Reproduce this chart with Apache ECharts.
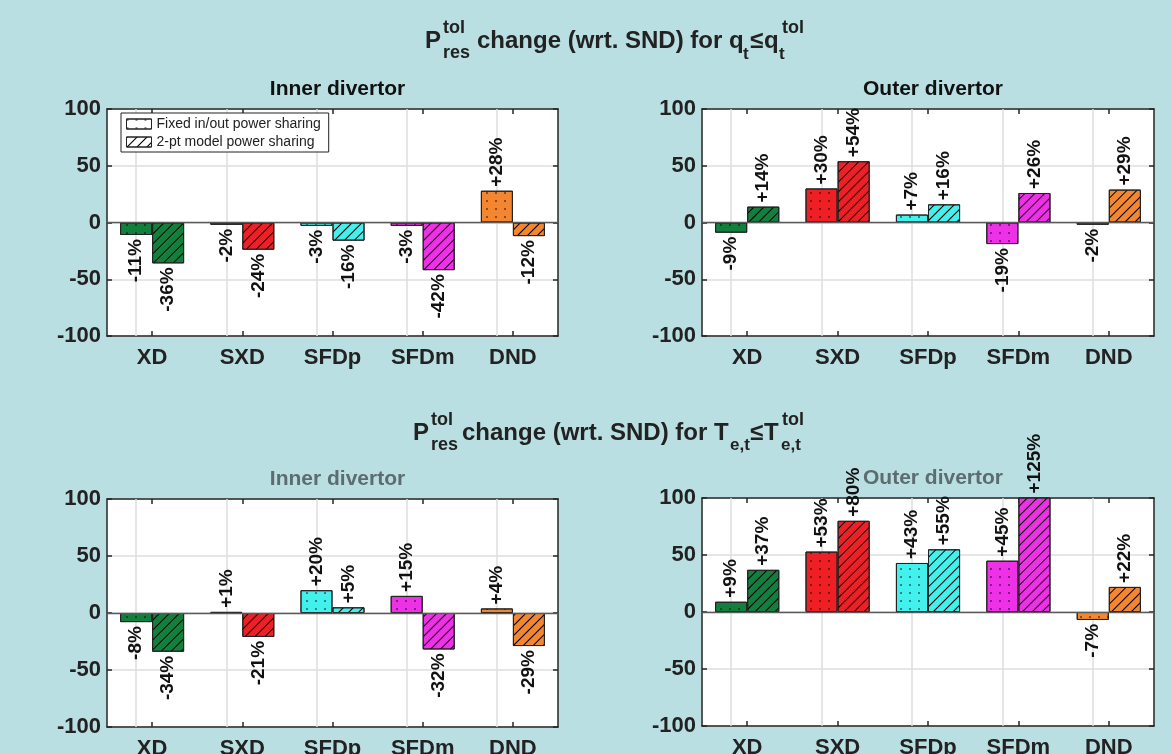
<!DOCTYPE html>
<html>
<head>
<meta charset="utf-8">
<script src="https://cdn.jsdelivr.net/npm/echarts@6/dist/echarts.min.js"></script>
<style>
html,body{margin:0;padding:0;background:#b9dfe2;}
#c{width:1171px;height:754px;}
</style>
</head>
<body>
<div id="c"></div>
<script>
// ---- data ----
const categories = ['XD', 'SXD', 'SFDp', 'SFDm', 'DND'];
const seriesNames = ['Fixed in/out power sharing', '2-pt model power sharing'];
const yTickMin = -100, yTickMax = 100, yTickStep = 50;
// P_res^tol change for q_t <= q_t^tol
const qInnerFixed = [-11, -2, -3, -3, 28];
const qInner2pt   = [-36, -24, -16, -42, -12];
const qOuterFixed = [-9, 30, 7, -19, -2];
const qOuter2pt   = [14, 54, 16, 26, 29];
// P_res^tol change for T_e,t <= T_e,t^tol
const tInnerFixed = [-8, 1, 20, 15, 4];
const tInner2pt   = [-34, -21, 5, -32, -29];
const tOuterFixed = [9, 53, 43, 45, -7];
const tOuter2pt   = [37, 80, 55, 125, 22];

// ---- styles ----
const catColors = ['#11803d', '#ee2025', '#42f0ec', '#ee30e6', '#f3862f'];
const FONT = "'Liberation Sans', Arial, Helvetica, sans-serif";
const frameColor = '#262626';
const gridColor = '#dedede';

const dotDecal = { symbol: 'circle', symbolSize: 0.8, dashArrayX: [2, 7], dashArrayY: [2, 6], color: '#000' };
const hatchDecal = { symbol: 'rect', symbolSize: 1, dashArrayX: [1, 0], dashArrayY: [1, 6], rotation: -Math.PI / 4, color: '#000' };

const panels = [
  { fixed: qInnerFixed, twoPt: qInner2pt, title: 'Inner divertor', tColor: '#111', grid: { left: 107, top: 109, width: 451, height: 227 } },
  { fixed: qOuterFixed, twoPt: qOuter2pt, title: 'Outer divertor', tColor: '#111', grid: { left: 702, top: 109, width: 452, height: 227 } },
  { fixed: tInnerFixed, twoPt: tInner2pt, title: 'Inner divertor', tColor: '#5c6c6f', grid: { left: 107, top: 499, width: 451, height: 228 } },
  { fixed: tOuterFixed, twoPt: tOuter2pt, title: 'Outer divertor', tColor: '#5c6c6f', grid: { left: 702, top: 498, width: 452, height: 228 } }
];

const grids = [], xAxes = [], yAxes = [], series = [], titles = [];
const tickStyle = { show: true, inside: true, length: 5, lineStyle: { color: frameColor, width: 1.5 } };
const lineStyle = { show: true, onZero: false, lineStyle: { color: frameColor, width: 1.5 } };

function fmt(v) { return (v > 0 ? '+' : '') + v + '%'; }
function barData(vals) {
  return vals.map((v, i) => ({
    value: v,
    itemStyle: { color: catColors[i] },
    label: v >= 0
      ? { position: 'top', align: 'left', verticalAlign: 'middle' }
      : { position: 'bottom', align: 'right', verticalAlign: 'middle' }
  }));
}

panels.forEach((p, gi) => {
  grids.push(Object.assign({ containLabel: false, outerBoundsMode: 'none', show: true, backgroundColor: '#ffffff', borderWidth: 0 }, p.grid));
  xAxes.push({
    type: 'category', gridIndex: gi, data: categories, position: 'bottom',
    axisLine: lineStyle, axisTick: Object.assign({ alignWithLabel: true }, tickStyle),
    axisLabel: { fontFamily: FONT, fontSize: 22, fontWeight: 'bold', color: '#222', margin: 11 },
    splitLine: { show: false }
  });
  xAxes.push({
    type: 'category', gridIndex: gi, data: categories, position: 'top',
    axisLine: lineStyle, axisTick: Object.assign({ alignWithLabel: true }, tickStyle),
    axisLabel: { show: false }, splitLine: { show: false }
  });
  yAxes.push({
    type: 'value', gridIndex: gi, min: yTickMin, max: yTickMax, interval: yTickStep, position: 'left',
    axisLine: lineStyle, axisTick: tickStyle,
    axisLabel: { fontFamily: FONT, fontSize: 22, fontWeight: 'bold', color: '#222', margin: 6 },
    splitLine: { show: true, lineStyle: { color: gridColor, width: 1.5 } }
  });
  yAxes.push({
    type: 'value', gridIndex: gi, min: yTickMin, max: yTickMax, interval: yTickStep, position: 'right',
    axisLine: lineStyle, axisTick: tickStyle, axisLabel: { show: false }, splitLine: { show: false }
  });
  const xi = gi * 2, yi = gi * 2;
  const common = {
    type: 'bar', xAxisIndex: xi, yAxisIndex: yi, barGap: '0%', barCategoryGap: '29%',
    animation: false, z: 2,
    label: {
      show: true, rotate: 90, distance: 4, formatter: (d) => fmt(d.value),
      fontFamily: FONT, fontSize: 19, fontWeight: 'bold', color: '#111'
    }
  };
  series.push(Object.assign({}, common, {
    name: seriesNames[0], data: barData(p.fixed),
    itemStyle: { color: '#ffffff', borderColor: '#222', borderWidth: 1, decal: dotDecal },
    markLine: {
      z: 1, silent: true, symbol: 'none', animation: false, label: { show: false },
      lineStyle: { color: gridColor, width: 1.5, type: 'solid' },
      data: categories.map(c => ({ xAxis: c }))
    }
  }));
  series.push(Object.assign({}, common, {
    name: seriesNames[1], data: barData(p.twoPt),
    itemStyle: { color: '#ffffff', borderColor: '#222', borderWidth: 1, decal: hatchDecal },
    markLine: {
      z: 6, silent: true, symbol: 'none', animation: false, label: { show: false },
      lineStyle: { color: '#5a5a5a', width: 1.3, type: 'solid' },
      data: [{ yAxis: 0 }]
    }
  }));
  titles.push({
    text: p.title, left: p.grid.left + p.grid.width / 2, top: p.grid.top - 35, textAlign: 'center',
    textStyle: { fontFamily: FONT, fontSize: 21, fontWeight: 'bold', color: p.tColor }
  });
});

function T(text, x, y, size, weight) {
  return { type: 'text', left: x, top: y - size * 0.6, silent: true,
    style: { text: text, fontFamily: FONT, fontSize: size, fontWeight: weight || 'bold', fill: '#222' } };
}

const graphics = [
  // title 1
  T('P', 425, 44, 24), T('tol', 443, 30, 18), T('res', 443, 55, 18),
  T('change (wrt. SND) for q', 477, 44, 24),
  T('t', 743, 56, 17), T('≤', 750, 44, 24), T('q', 764, 44, 24),
  T('t', 779, 56, 17), T('tol', 782, 30, 18),
  // title 2
  T('P', 413, 436, 24), T('tol', 431, 422, 18), T('res', 431, 447, 18),
  T('change (wrt. SND) for T', 462, 436, 24),
  T('e,t', 730, 447, 17), T('≤', 750, 436, 24), T('T', 764, 436, 24),
  T('e,t', 781, 447, 17), T('tol', 782, 422, 18)
];

const chart = echarts.init(document.getElementById('c'), null, { renderer: 'canvas' });
chart.setOption({
  backgroundColor: '#b9dfe2',
  animation: false,
  title: titles,
  grid: grids,
  xAxis: xAxes,
  yAxis: yAxes,
  legend: {
    data: seriesNames, orient: 'vertical', left: 121, top: 113,
    backgroundColor: '#ffffff', borderColor: '#222', borderWidth: 1, borderRadius: 0,
    padding: [4, 8, 3, 5], itemWidth: 25, itemHeight: 10, itemGap: 4, icon: 'rect',
    selectedMode: false,
    itemStyle: { borderColor: '#222', borderWidth: 1 },
    textStyle: { fontFamily: FONT, fontSize: 14, color: '#222' }
  },
  graphic: graphics,
  series: series
});
</script>
</body>
</html>
